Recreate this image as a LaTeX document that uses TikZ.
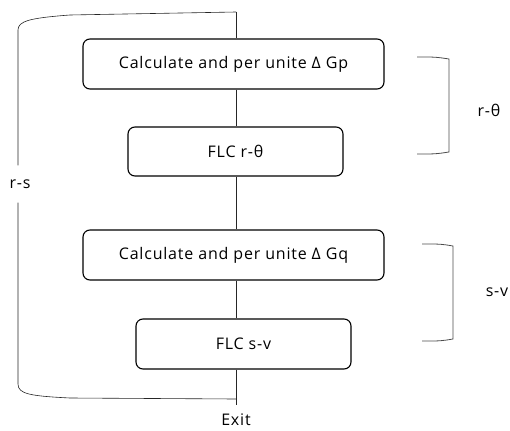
\documentclass[tikz,border=0pt]{standalone}
\usepackage{fontspec}
\setmainfont{Open Sans}[LetterSpace=5]

\begin{document}
\begin{tikzpicture}
  [x=1pt, y=-1pt,
   every node/.style={font=\fontsize{16}{19}\selectfont},
   stepbox/.style={draw, line width=1.1pt, rounded corners=7pt, minimum height=50pt},
   flow/.style={draw=black!85, line width=0.6pt},
   bracket/.style={draw=black!70, line width=0.8pt},
  ]
  \useasboundingbox (0,0) rectangle (510,430);

  % main chain
  \coordinate (top) at (236,12);
  \node[stepbox, minimum width=301pt] (gp) at (233.5,64) {Calculate and per unite Δ Gp};
  \node[stepbox, minimum width=215pt, minimum height=49pt] (flcrt) at (235.5,151.5) {FLC r-θ};
  \node[stepbox, minimum width=301pt] (gq) at (233.5,255) {Calculate and per unite Δ Gq};
  \node[stepbox, minimum width=215pt] (flcsv) at (243.5,344) {FLC s-v};
  \coordinate (bot) at (236,399);
  \coordinate (out) at (236,405);
  \node[anchor=base, inner sep=0pt] (exit) at (236,425) {Exit};

  \draw[flow] (top) -- (top |- gp.north);
  \draw[flow] (top |- gp.south) -- (top |- flcrt.north);
  \draw[flow] (top |- flcrt.south) -- (top |- gq.north);
  \draw[flow] (top |- gq.south) -- (top |- flcsv.north);
  \draw[flow] (top |- flcsv.south) -- (out);

  % outer loop r-s
  \node[inner sep=0pt, minimum height=37pt] (rs) at (20,184) {r-s};
  \draw[flow] (top) -- (70,15) .. controls (30,18) and (18,21) .. (18,30) -- (18,0 |- rs.north);
  \draw[flow] (18,0 |- rs.south) -- (18,384) .. controls (18,394) and (30,396) .. (70,398) -- (bot);

  % right brackets
  \draw[bracket] (417,57) .. controls (436,57) .. (449,59) -- (449,152) .. controls (436,154) .. (417,154);
  \node (rt) at (489,110) {r-θ};
  \draw[bracket] (422,244) .. controls (441,244) .. (453,246) -- (453,339) .. controls (441,341) .. (422,341);
  \node (sv) at (497,292) {s-v};
\end{tikzpicture}
\end{document}
